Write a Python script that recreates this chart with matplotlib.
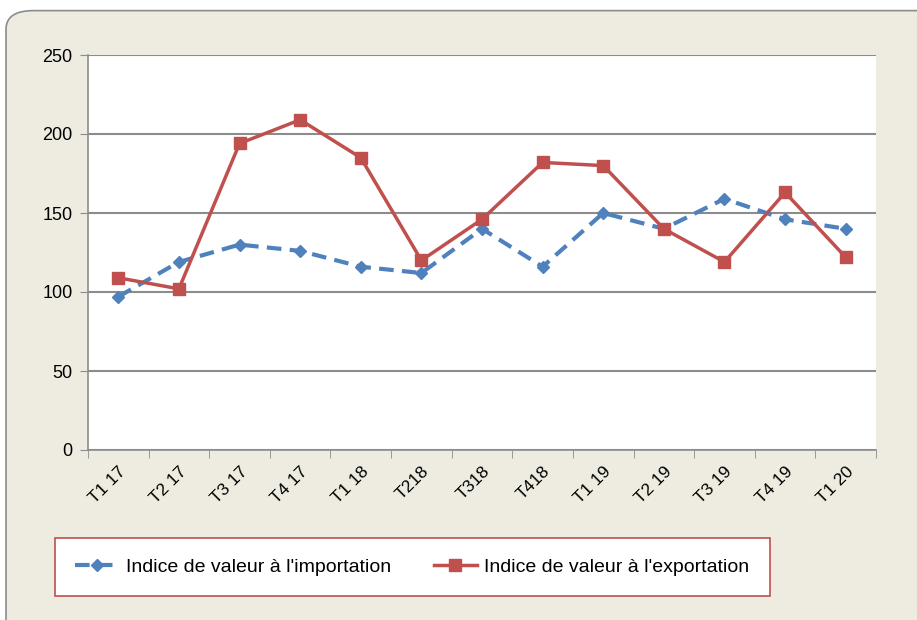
import matplotlib
matplotlib.use("Agg")
import matplotlib.pyplot as plt
from matplotlib.patches import FancyBboxPatch
import numpy as np

plt.rcParams['font.family'] = ['Liberation Sans', 'DejaVu Sans']

quarters = ["T1 17", "T2 17", "T3 17", "T4 17", "T1 18", "T218", "T318",
            "T418", "T1 19", "T2 19", "T3 19", "T4 19", "T1 20"]
imports = [97, 119, 130, 126, 116, 112, 140, 116, 150, 140, 159, 146, 140]
exports = [109, 102, 194, 209, 185, 120, 146, 182, 180, 140, 119, 163, 122]

blue = "#4F81BD"
red = "#C0504D"

fig = plt.figure(figsize=(9.17, 6.2), dpi=100)
fig.patch.set_facecolor("white")

# rounded beige frame behind everything
frame = FancyBboxPatch((6 / 917, -0.05), 1.05, (610 / 620) + 0.05 - 0.001,
                       boxstyle="round,pad=0,rounding_size=0.03",
                       transform=fig.transFigure, facecolor="#EEECE1",
                       edgecolor="#8C8C8C", linewidth=1.2, zorder=-10)
fig.patches.append(frame)

ax = fig.add_axes([88 / 917, 170 / 620, 788 / 917, 395 / 620])
ax.set_zorder(1)
ax.set_facecolor("white")

x = np.arange(len(quarters))
ax.plot(x, imports, color=blue, linestyle=(0, (3.5, 2)), linewidth=3,
        marker="D", markersize=6, label="Indice de valeur à l'importation", zorder=3)
ax.plot(x, exports, color=red, linestyle="-", linewidth=2.5,
        marker="s", markersize=8, label="Indice de valeur à l'exportation", zorder=4)

ax.set_xlim(-0.5, len(quarters) - 0.5)
ax.set_ylim(0, 250)
ax.set_yticks(range(0, 251, 50))
ax.yaxis.grid(True, color="#8C8C8C", linewidth=1.5)
ax.set_axisbelow(True)

ax.set_xticks(x)
ax.set_xticklabels(quarters, rotation=45, ha="right", rotation_mode="anchor")
ax.set_xticks(np.arange(-0.5, len(quarters), 1), minor=True)
ax.tick_params(axis="x", which="major", length=0, pad=10, labelsize=12.5)
ax.tick_params(axis="x", which="minor", length=6, color="#8C8C8C")
ax.tick_params(axis="y", length=6, color="#8C8C8C", labelsize=13, pad=5)

for side in ["top", "right"]:
    ax.spines[side].set_visible(False)
for side in ["left", "bottom"]:
    ax.spines[side].set_color("#8C8C8C")
    ax.spines[side].set_linewidth(1.2)

leg = fig.legend(loc="center left", bbox_to_anchor=(55 / 917, 53 / 620), ncol=2,
                 fontsize=14, frameon=True, fancybox=False, handlelength=2.2,
                 columnspacing=2.2, borderpad=1.05, handletextpad=0.4,
                 borderaxespad=0, framealpha=1)
leg.get_frame().set_edgecolor(red)
leg.get_frame().set_facecolor("white")
leg.get_frame().set_linewidth(1.2)
leg.set_zorder(2)

fig.savefig("out.png", dpi=100)
